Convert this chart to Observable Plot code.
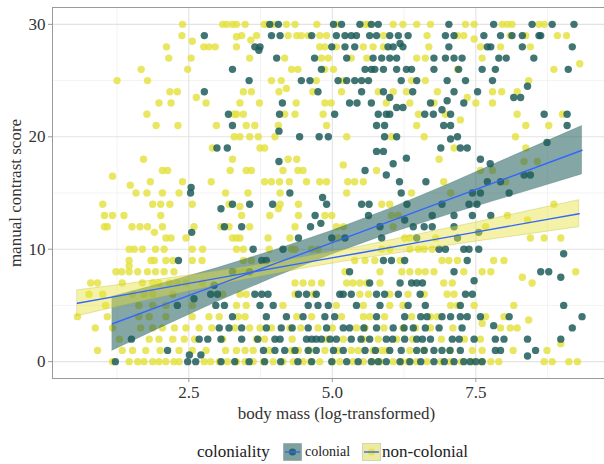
<!DOCTYPE html>
<html><head><meta charset="utf-8">
<script src="https://cdn.jsdelivr.net/npm/d3@7"></script>
<script src="https://cdn.jsdelivr.net/npm/@observablehq/plot@0.6"></script>
<style>
html,body{margin:0;padding:0;background:#fff;overflow:hidden;width:604px;height:464px}
#chart{width:620px;height:439px}
#chart svg{display:block;max-width:none !important}
#legend{position:relative;height:25px;width:604px;font-family:"Liberation Serif",serif;color:#222}
#legend span,#legend svg{position:absolute}
</style></head><body>
<div id="chart"></div>
<div id="legend"></div>
<script>
// ---- data: each row is [y, x1, x2, ...] ----
const colonialRows = [
  [30, 3.91, 4.06, 5.02, 5.16, 5.48, 5.68, 5.80, 7.03, 7.81, 8.48, 8.83, 9.21],
  [29, 2.77, 3.94, 4.09, 4.64, 5.07, 5.22, 5.33, 5.42, 5.65, 5.77, 6.00, 6.15, 6.32, 6.97, 7.12, 7.64, 7.93, 8.13, 8.31, 8.60, 8.63],
  [28.3, 6.18],
  [28, 3.65, 3.74, 4.99, 5.22, 5.39, 5.97, 6.06, 6.23, 7.03, 7.70, 7.76, 8.31, 9.18],
  [27.7, 3.72],
  [27, 4.03, 4.69, 5.25, 5.71, 5.86, 6.00, 6.12, 6.77, 6.97, 7.12, 7.26, 7.90, 8.03, 8.51],
  [26, 3.26, 4.81, 5.57, 5.68, 5.74, 5.89, 6.12, 6.29, 6.38, 6.77, 7.20, 7.61, 7.84, 9.11],
  [25, 3.55, 4.46, 4.61, 5.10, 5.25, 5.39, 5.51, 5.63, 6.20, 6.47, 7.00, 7.32, 7.79],
  [24.5, 8.40],
  [24, 2.77, 4.75, 5.51, 5.89, 6.40, 7.12, 7.53],
  [23.5, 6.00, 8.16, 8.28],
  [23.2, 7.00],
  [23, 4.13, 5.30, 5.43, 5.68, 6.71, 7.29],
  [22.6, 6.12, 6.23],
  [22.4, 6.91],
  [22, 3.19, 4.08, 5.04, 5.80, 5.94, 6.00, 6.61, 6.76, 7.06, 8.69, 9.09],
  [21, 3.26, 5.77, 5.91, 6.94, 7.06, 9.09],
  [20.5, 4.07],
  [20, 4.43, 4.77, 4.93, 5.91, 6.12, 7.18],
  [19.8, 7.06],
  [19.5, 8.74],
  [19, 2.99, 3.17, 6.89, 7.23, 7.35],
  [18.7, 5.77, 5.89],
  [18.1, 6.29],
  [17.8, 4.07],
  [17.6, 6.06, 7.75],
  [18, 7.58],
  [17, 5.57],
  [16.6, 5.94, 8.34, 8.45],
  [16, 6.17, 6.63, 7.70, 7.93],
  [15.5, 2.54],
  [15, 2.53, 4.26, 6.20, 7.44, 7.58, 8.08],
  [14.6, 4.83],
  [14, 3.26, 3.56, 3.96, 4.90, 5.51, 5.64, 6.30, 6.91, 7.38, 7.52],
  [13.6, 3.06],
  [13, 4.70, 5.63, 6.74, 7.12, 7.44, 7.76],
  [12.6, 6.26],
  [12.3, 4.80],
  [12, 3.12, 3.42, 4.62, 5.83, 6.41, 6.60, 6.74, 7.12],
  [11.5, 2.55, 7.55],
  [11, 4.41, 4.99, 5.22, 5.86, 6.47, 7.18],
  [10, 3.62, 4.14, 6.86, 6.97, 7.29, 7.38, 7.55],
  [9.6, 9.03],
  [9, 2.32, 3.77, 3.85, 5.89, 6.03, 6.26, 7.35],
  [8, 3.26, 3.56, 5.30, 7.12, 8.63, 8.77],
  [7.5, 8.98],
  [7.2, 7.47],
  [7, 5.65, 6.18, 6.38, 6.47, 6.57],
  [6.8, 2.94],
  [6, 2.88, 3.00, 3.65, 3.77, 3.88, 4.41, 4.55, 4.72, 5.13, 5.19, 5.33, 5.77, 5.91, 6.15, 6.53, 7.32, 7.44],
  [5.6, 2.59],
  [5, 2.30, 2.97, 3.12, 3.74, 3.97, 4.58, 4.75, 4.93, 5.42, 5.83, 6.32, 6.62, 7.23, 9.03],
  [4, 3.26, 3.85, 4.20, 4.49, 4.87, 5.04, 5.77, 6.26, 6.54, 6.65, 6.91, 7.06, 7.23, 7.35, 7.58, 8.08, 9.35],
  [3.2, 7.81],
  [3, 3.03, 3.20, 3.42, 3.85, 4.11, 4.30, 4.58, 4.90, 5.19, 5.30, 5.55, 5.77, 6.06, 6.25, 6.41, 6.62, 6.86, 7.26, 9.18],
  [2, 1.50, 2.68, 2.83, 3.06, 3.42, 3.70, 4.00, 4.09, 4.55, 4.64, 4.72, 4.81, 4.96, 5.07, 5.33, 5.50, 5.65, 5.94, 6.05, 6.26, 6.47, 6.57, 6.71, 7.09, 7.21, 7.47, 7.84, 7.99, 8.40, 8.98],
  [1, 2.13, 3.80, 4.00, 4.17, 4.35, 4.58, 4.72, 5.02, 5.19, 5.57, 5.75, 6.00, 6.20, 6.47, 6.60, 6.77, 6.91, 7.05, 7.23, 7.84, 7.93, 8.54],
  [0.6, 2.51, 2.71],
  [0.5, 8.40],
  [0, 1.22, 2.48, 2.62, 3.06, 3.30, 3.55, 3.82, 4.10, 4.40, 4.64, 4.99, 5.25, 5.45, 5.68, 5.80, 5.94, 6.18, 6.35, 6.54, 6.77, 6.95, 7.12, 7.29, 7.40, 7.50, 7.61]
];
const nonColonialRows = [
  [30, 2.39, 3.09, 3.16, 3.26, 3.33, 3.48, 3.81, 3.87, 3.97, 4.20, 4.35, 4.73, 5.07, 5.57, 5.63, 6.06, 6.23, 6.47, 6.71, 7.32, 7.47, 7.96, 8.05, 8.13, 8.60, 8.69],
  [29, 2.38, 3.42, 3.68, 4.23, 4.38, 4.46, 4.58, 4.78, 4.90, 5.89, 6.65, 7.18, 7.29, 8.10, 8.37, 8.92, 9.08],
  [28.9, 3.33],
  [28.7, 7.47],
  [28.6, 3.58],
  [28.5, 2.56],
  [28, 2.11, 2.76, 2.85, 2.96, 3.33, 4.78, 4.87, 5.07, 5.54, 5.71, 5.89, 6.68, 7.58, 7.93, 8.45],
  [27, 2.15, 2.54, 3.56, 4.17, 4.81, 4.93, 5.33, 5.60, 6.47, 6.62, 7.61],
  [26.5, 9.31],
  [26, 1.67, 2.48, 4.29, 4.40, 4.87, 5.02, 7.18, 8.86],
  [25, 1.25, 1.78, 3.94, 4.11, 4.72, 5.19, 6.38, 6.62, 8.42],
  [24.3, 4.20],
  [24, 2.17, 2.30, 3.45, 3.59, 4.07, 4.66, 5.16, 5.80, 6.06, 6.29, 6.83, 7.79, 7.95, 8.22],
  [23.5, 2.63, 7.35],
  [23, 1.98, 2.19, 2.80, 3.39, 3.73, 4.37, 4.87, 4.98, 5.94, 6.35, 6.77, 7.50, 7.79],
  [22, 1.77, 3.29, 3.33, 3.45, 4.17, 4.35, 4.84, 6.50, 6.97, 8.22, 9.01],
  [21.5, 7.23],
  [21, 1.93, 2.31, 2.98, 3.50, 3.65, 4.06, 4.90, 6.47, 8.37, 8.77],
  [20, 3.29, 3.39, 3.56, 3.71, 4.00, 5.25, 6.03, 6.60, 8.19],
  [19, 2.91, 3.74, 3.82, 7.12, 8.37],
  [18, 1.71, 3.26, 4.23, 4.38, 6.86],
  [17.8, 8.34, 8.57],
  [17.5, 5.19],
  [17, 2.04, 2.13, 3.22, 3.50, 3.59, 4.14, 4.40, 4.49, 5.77, 7.58, 7.79],
  [16.5, 1.17],
  [16, 1.83, 2.39, 2.89, 3.82, 3.94, 4.08, 4.25, 4.55, 4.78, 4.90, 5.27, 5.39, 5.54, 6.94, 8.02],
  [15.7, 1.48],
  [15, 1.58, 1.77, 2.04, 2.33, 3.14, 3.53, 4.09, 5.25, 6.38, 7.06],
  [14, 1.00, 1.87, 2.01, 2.17, 2.56, 3.20, 4.09, 4.41, 5.86, 6.00, 8.86],
  [13.8, 3.39],
  [13.6, 4.06],
  [13, 1.03, 1.17, 1.37, 2.01, 3.42, 3.91, 4.41, 4.87, 4.99, 6.03, 6.15, 8.05],
  [12.6, 8.40],
  [12, 1.03, 1.08, 1.51, 1.65, 1.78, 2.04, 2.59, 3.06, 3.20, 3.56, 4.35, 5.07, 5.19, 6.06, 7.67],
  [11.5, 1.90],
  [11, 2.10, 2.19, 2.45, 3.26, 3.33, 3.39, 3.88, 4.26, 5.10, 6.26, 6.35, 6.80, 8.45, 8.69, 8.98],
  [10, 1.46, 1.55, 1.69, 1.92, 2.07, 2.56, 2.74, 3.33, 3.45, 3.90, 4.29, 4.35, 4.64, 4.75, 5.86, 6.00, 6.35, 6.50, 6.60, 6.74],
  [9, 1.46, 1.84, 1.90, 2.10, 2.22, 2.56, 2.73, 3.45, 3.59, 5.39, 5.57, 5.74, 6.18, 6.91, 7.03, 7.18, 7.81, 7.99],
  [8.5, 1.46],
  [8, 1.23, 1.33, 1.46, 1.61, 1.78, 1.92, 2.07, 2.24, 3.33, 3.45, 5.22, 5.83, 6.21, 6.35, 6.50, 6.62, 6.77, 7.29, 7.61, 7.76, 9.24],
  [7.5, 8.31],
  [7, 0.79, 0.91, 1.34, 1.69, 1.87, 1.98, 2.16, 2.30, 2.45, 2.74, 4.35, 4.49, 4.64, 4.81, 5.25, 5.36, 5.48, 5.60, 5.83, 6.94, 7.09, 8.48],
  [6, 0.76, 1.00, 1.52, 1.72, 1.87, 2.22, 3.09, 3.39, 3.50, 4.35, 4.67, 5.48, 5.63, 6.00, 6.32, 6.60, 7.00, 7.12],
  [5, 1.05, 1.63, 1.87, 2.10, 2.56, 3.33, 3.50, 4.14, 5.07, 5.54, 6.00, 6.23, 7.06, 7.18, 7.47, 8.16],
  [4, 0.56, 1.08, 1.63, 1.81, 2.10, 2.56, 2.85, 3.03, 3.36, 3.48, 4.38, 4.64, 5.16, 5.54, 5.65, 5.91, 6.38, 6.71, 6.83, 7.67, 7.99],
  [3.7, 8.42],
  [3.4, 7.61],
  [3, 0.87, 1.17, 1.66, 1.87, 2.04, 2.25, 2.45, 2.68, 2.90, 3.30, 3.56, 3.74, 3.94, 4.26, 4.45, 4.75, 5.00, 5.42, 5.57, 5.90, 6.23, 6.45, 6.71, 7.10, 7.93, 8.10, 8.22],
  [2, 1.29, 1.81, 1.98, 2.22, 2.42, 2.60, 3.09, 3.68, 3.82, 4.30, 4.90, 5.19, 5.54, 5.80, 6.12, 6.40, 6.90, 7.30, 7.58],
  [1.6, 8.98],
  [1, 0.91, 1.34, 1.52, 1.75, 2.00, 2.33, 2.56, 2.80, 3.14, 3.33, 3.48, 3.62, 3.90, 4.29, 4.41, 4.60, 4.87, 5.10, 5.33, 5.45, 5.71, 5.86, 5.95, 6.35, 6.60, 7.05, 7.44, 7.61, 8.15, 8.74],
  [0, 1.17, 1.46, 1.61, 1.72, 1.87, 1.98, 2.10, 2.24, 2.33, 2.77, 2.88, 3.03, 3.17, 3.33, 3.48, 3.62, 3.80, 3.97, 4.14, 4.32, 4.49, 4.62, 4.78, 5.00, 5.13, 5.36, 5.54, 5.70, 5.83, 6.06, 6.20, 6.32, 6.47, 6.65, 6.89, 7.05, 7.25, 7.44, 7.60, 7.76, 7.90, 8.69, 8.83, 9.12, 9.27]
];
// fitted lines and confidence bands
const colonialFitX  = [1.17, 2.0, 3.0, 4.0, 5.0, 6.0, 7.0, 8.0, 9.35];
const colonialFit   = [3.37, 4.93, 6.82, 8.71, 10.59, 12.48, 14.36, 16.25, 18.80];
const colonialLo    = [0.97, 2.98, 5.32, 7.51, 9.54, 11.38, 13.01, 14.55, 16.65];
const colonialHi    = [5.77, 6.88, 8.32, 9.91, 11.64, 13.58, 15.71, 17.95, 20.95];
const nonColonialFitX = [0.56, 1.5, 2.5, 3.5, 4.5, 5.5, 6.5, 7.5, 8.5, 9.3];
const nonColonialFit  = [5.19, 6.05, 6.96, 7.87, 8.78, 9.69, 10.61, 11.52, 12.43, 13.16];
const nonColonialLo   = [4.04, 5.15, 6.26, 7.32, 8.28, 9.14, 9.91, 10.67, 11.38, 11.96];
const nonColonialHi   = [6.34, 6.95, 7.66, 8.42, 9.28, 10.24, 11.31, 12.37, 13.48, 14.36];
const xTicks = [2.5, 5.0, 7.5];
const xMinor = [1.25, 3.75, 6.25, 8.75];
const yTicks = [0, 10, 20, 30];
const yMinor = [5, 15, 25];
const groups = ["colonial", "non-colonial"];

const colors = {pt: ["#1f5d5a", "#e3e139"], band: ["#1f5d5a", "#e6e33a"]};

function flatten(rows, g) {
  const out = [];
  for (const r of rows) for (let i = 1; i < r.length; i++) out.push({x: r[i], y: r[0], g});
  return out;
}
const ptsC = flatten(colonialRows, groups[0]);
const ptsN = flatten(nonColonialRows, groups[1]);
const fitC = colonialFitX.map((x, i) => ({x, y: colonialFit[i], lo: colonialLo[i], hi: colonialHi[i]}));
const fitN = nonColonialFitX.map((x, i) => ({x, y: nonColonialFit[i], lo: nonColonialLo[i], hi: nonColonialHi[i]}));

const font = '"Liberation Serif", "Times New Roman", serif';
const chart = Plot.plot({
  width: 620, height: 439,
  marginLeft: 52, marginRight: 0, marginTop: 7, marginBottom: 61,
  style: {fontFamily: font, fontSize: "17px", color: "#222", background: "#fff", maxWidth: "none"},
  x: {domain: [0.125, 10.02]},
  y: {domain: [-1.5, 31.5]},
  marks: [
    Plot.gridX(xMinor, {stroke: "#ebebeb", strokeOpacity: 1, strokeWidth: 0.6}),
    Plot.gridY(yMinor, {stroke: "#ebebeb", strokeOpacity: 1, strokeWidth: 0.6}),
    Plot.gridX(xTicks, {stroke: "#e3e3e3", strokeOpacity: 1, strokeWidth: 1.1}),
    Plot.gridY(yTicks, {stroke: "#e3e3e3", strokeOpacity: 1, strokeWidth: 1.1}),
    Plot.dot(ptsN, {x: "x", y: "y", r: 3.7, fill: colors.pt[1], fillOpacity: 0.8, stroke: "none"}),
    Plot.dot(ptsC, {x: "x", y: "y", r: 3.7, fill: colors.pt[0], fillOpacity: 0.85, stroke: "none"}),
    Plot.areaY(fitC, {x: "x", y1: "lo", y2: "hi", fill: colors.band[0], fillOpacity: 0.55, stroke: colors.band[0], strokeOpacity: 0.3, strokeWidth: 0.8}),
    Plot.areaY(fitN, {x: "x", y1: "lo", y2: "hi", fill: colors.band[1], fillOpacity: 0.45, stroke: "#b8b530", strokeOpacity: 0.4, strokeWidth: 0.8}),
    Plot.line(fitC, {x: "x", y: "y", stroke: "#3366ff", strokeWidth: 1.4}),
    Plot.line(fitN, {x: "x", y: "y", stroke: "#3366ff", strokeWidth: 1.4}),
    Plot.frame({stroke: "#9a9a9a", strokeWidth: 1}),
    Plot.axisX({ticks: xTicks, tickFormat: d3.format(".1f"), tickSize: 4, tickPadding: 3, stroke: "#9a9a9a", fill: "#333",
      label: "body mass (log-transformed)", labelAnchor: "center", labelArrow: "none", labelOffset: 40}),
    Plot.axisY({ticks: yTicks, tickSize: 4, tickPadding: 3, stroke: "#9a9a9a", fill: "#333",
      label: "manual contrast score", labelAnchor: "center", labelArrow: "none", labelOffset: 44})
  ]
});
chart.style.maxWidth = "none";
chart.style.width = "620px";
chart.style.height = "439px";
document.getElementById("chart").appendChild(chart);

// legend
const lg = document.getElementById("legend");
function addText(txt, left, size) {
  const s = document.createElement("span");
  s.textContent = txt; s.style.left = left + "px"; s.style.top = "0px";
  s.style.fontSize = size + "px"; s.style.lineHeight = "25px";
  lg.appendChild(s);
}
function addKey(left, i) {
  const ns = "http://www.w3.org/2000/svg";
  const svg = document.createElementNS(ns, "svg");
  svg.setAttribute("width", 19); svg.setAttribute("height", 18);
  svg.style.left = left + "px"; svg.style.top = "4px";
  svg.innerHTML = `<rect x="0.5" y="0.5" width="18" height="17" fill="#f2f2f2" stroke="#d0d0d0"/>
    <rect x="0.5" y="0.5" width="18" height="17" fill="${colors.band[i]}" fill-opacity="${i ? 0.45 : 0.55}"/>
    <circle cx="9.5" cy="9" r="3.6" fill="${colors.pt[i]}" fill-opacity="${i ? 0.8 : 0.85}"/>
    <line x1="2" x2="17" y1="9" y2="9" stroke="#3366ff" stroke-width="1.4"/>`;
  lg.appendChild(svg);
}
addText("coloniality", 197, 17);
addKey(283, 0);
addText("colonial", 305, 14);
addKey(362, 1);
addText("non-colonial", 382, 17);
</script></body></html>
